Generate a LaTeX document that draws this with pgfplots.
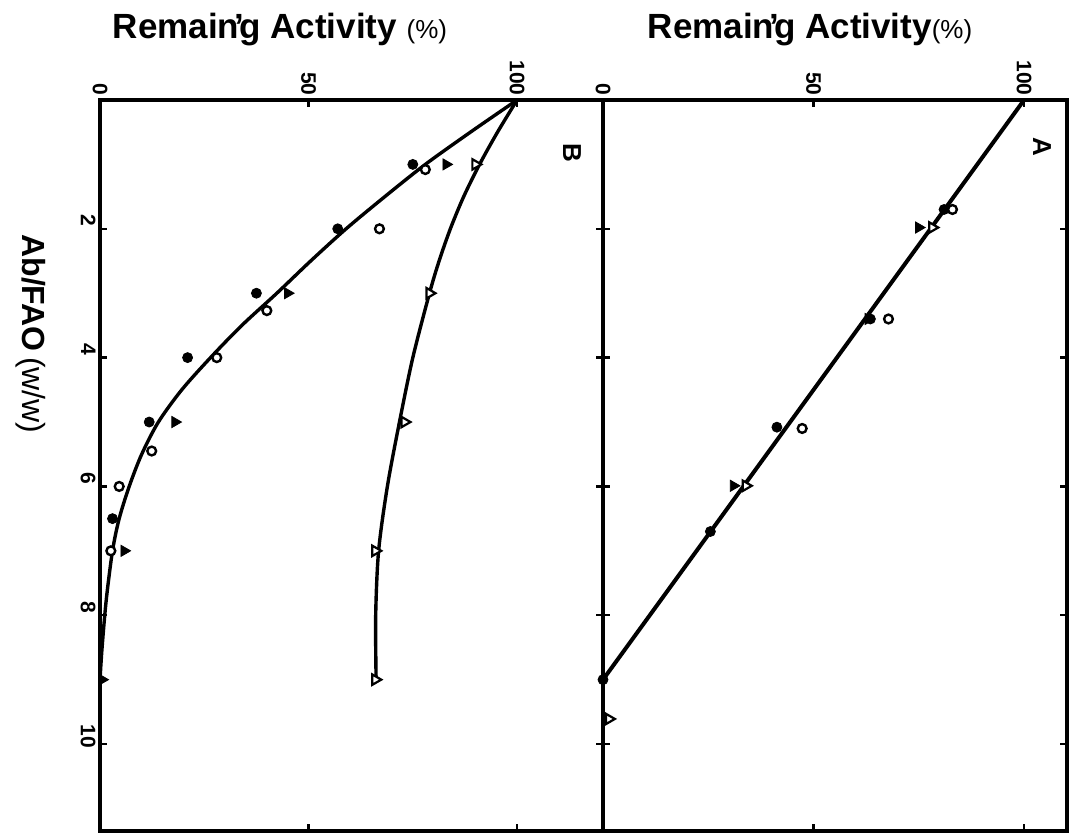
\documentclass[border=0pt]{standalone}
\usepackage{pgfplots}
\pgfplotsset{compat=1.18}
\usepackage{fontspec}
\setmainfont{Liberation Sans}
\pgfplotsset{
  panel/.style={
    scale only axis, anchor=south west,
    height=365.5pt,
    ymin=0, ymax=11.35, y dir=reverse,
    xtick={0,50,100}, ytick={2,4,6,8,10},
    tick align=inside, major tick length=3.5pt,
    xticklabel pos=upper, yticklabel pos=left,
    xticklabel style={rotate=-90, anchor=east, inner sep=2pt},
    yticklabel style={rotate=-90, anchor=north, inner sep=2pt, xshift=-4pt},
    ticklabel style={font=\fontsize{10.5}{12}\selectfont\bfseries},
    /pgf/number format/assume math mode=true,
    axis line style={line width=2pt},
    every tick/.style={line width=1.2pt, black},
    clip=false,
  },
  curve/.style={line width=1.7pt, black, smooth, no marks},
  fcirc/.style={only marks, mark=*, mark size=2.5pt, black},
  ocirc/.style={only marks, mark=*, mark size=2.2pt, mark options={fill=white, draw=black, line width=1.2pt}},
  ftri/.style={only marks, mark=triangle*, mark size=3.2pt, mark options={rotate=-90, fill=black, draw=black}},
  otri/.style={only marks, mark=triangle*, mark size=3.0pt, mark options={rotate=-90, fill=white, draw=black, line width=1.1pt}},
}
\begin{document}
\begin{tikzpicture}
\path[use as bounding box] (0,0) rectangle (537.5pt,417pt);

% ---------- Panel B ----------
\begin{axis}[panel, at={(50pt,1.5pt)}, width=251.5pt, xmin=0, xmax=120.6]
\addplot[curve] coordinates {(100,0) (88.8,0.5) (78,1) (68.3,1.5) (59,2) (50.5,2.5) (42.4,3) (34,3.5) (26.5,4) (19.6,4.5) (14,5) (10,5.5) (7,6) (4.6,6.5) (3,7) (1.5,7.76) (0.5,8.5) (0,9)};
\addplot[curve] coordinates {(100,0) (95.3,0.5) (91,1) (87.2,1.5) (84,2) (81.3,2.5) (79,3) (75,4) (71.8,5) (68.9,6) (66.8,7) (66.1,8) (66.2,9)};
\addplot[fcirc] coordinates {(75,1) (57,2) (37.5,3) (21,4) (11.8,5) (3,6.5)};
\addplot[ocirc] coordinates {(78,1.08) (67,2) (40,3.27) (28,4) (12.4,5.45) (4.6,6) (2.6,7)};
\addplot[ftri] coordinates {(83,1) (45,3) (18,5) (5.8,7) (0.5,9)};
\addplot[otri] coordinates {(90,1) (79,3) (73,5) (66,7) (66,9)};
\end{axis}

% ---------- Panel A ----------
\begin{axis}[panel, at={(301.5pt,1.5pt)}, width=232pt, xmin=0, xmax=110.2, yticklabels={}]
\addplot[line width=2pt, black, no marks] coordinates {(100,0) (0,9)};
\addplot[fcirc] coordinates {(81,1.7) (63.5,3.4) (41.3,5.08) (25.5,6.7) (0,9)};
\addplot[ocirc] coordinates {(83,1.7) (67.8,3.4) (47.3,5.1)};
\addplot[ftri] coordinates {(75,1.98) (63,3.4) (31,5.99)};
\addplot[otri] coordinates {(78.2,1.98) (33.9,5.99) (1.4,9.61)};
\end{axis}

% ---------- Texts ----------
\node at (140pt,402pt) {\fontsize{17.5}{20}\selectfont\bfseries Remain\makebox[0pt]{’}g Activity\ \mdseries\fontsize{13}{15}\selectfont(\%)};
\node at (405pt,402pt) {\fontsize{17.5}{20}\selectfont\bfseries Remain\makebox[0pt]{’}g Activity\mdseries\fontsize{13}{15}\selectfont(\%)};
\node[rotate=-90] at (15.5pt,250pt) {\fontsize{16}{18}\selectfont\bfseries Ab/FAO\,\mdseries(w/w)};
\node[rotate=-90] at (286pt,340.5pt) {\fontsize{13}{15}\selectfont\bfseries B};
\node[rotate=-90] at (521pt,343.5pt) {\fontsize{13}{15}\selectfont\bfseries A};
\end{tikzpicture}
\end{document}
